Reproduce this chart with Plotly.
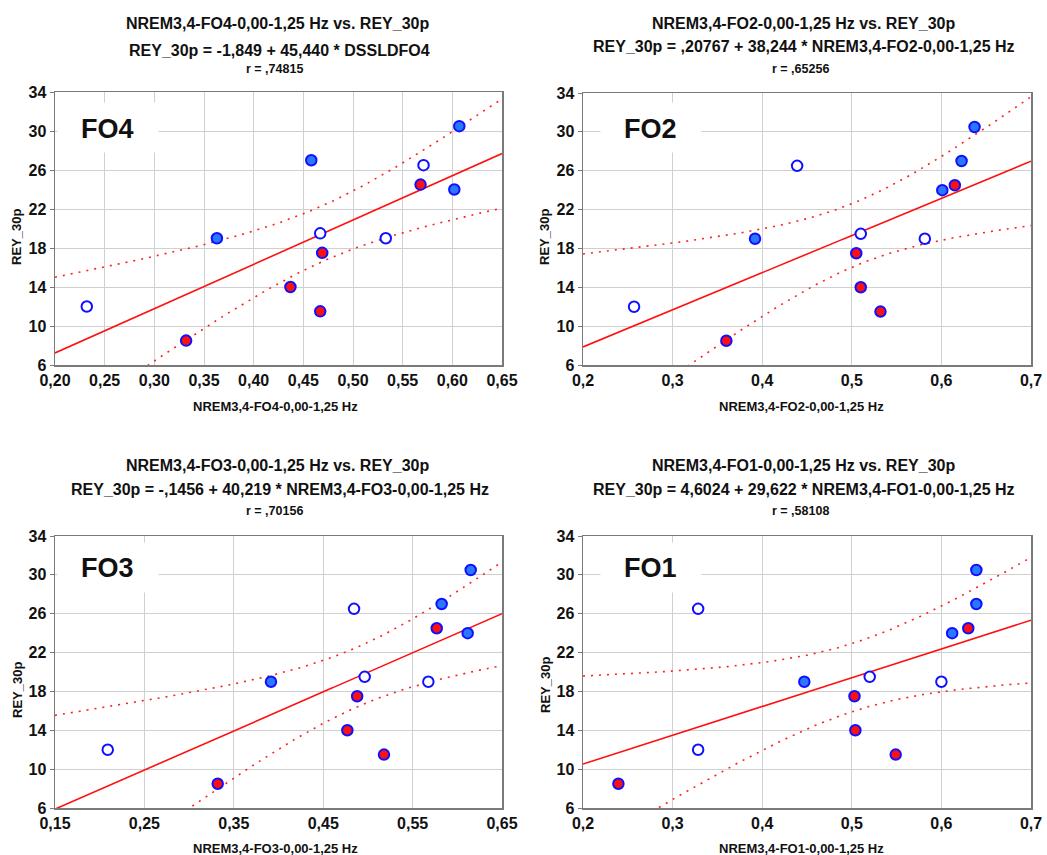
import numpy as np
import plotly.graph_objects as go

# ---------------- data ----------------
rey_30p = [30.5, 27, 26.5, 24.5, 24, 19.5, 19, 19, 17.5, 14, 12, 11.5, 8.5]
group = ["blue", "blue", "white", "red", "blue", "white", "blue", "white",
         "red", "red", "white", "red", "red"]

x_fo4 = [0.607, 0.458, 0.571, 0.568, 0.602, 0.467, 0.363, 0.533, 0.469, 0.437, 0.232, 0.467, 0.332]
x_fo2 = [0.637, 0.6225, 0.439, 0.615, 0.601, 0.510, 0.392, 0.5815, 0.505, 0.510, 0.257, 0.532, 0.360]
x_fo3 = [0.615, 0.5825, 0.4845, 0.577, 0.6116, 0.4964, 0.3916, 0.5676, 0.488, 0.477, 0.209, 0.518, 0.332]
x_fo1 = [0.639, 0.639, 0.3285, 0.630, 0.612, 0.520, 0.447, 0.600, 0.503, 0.504, 0.3285, 0.549, 0.2395]

panel_names = ["FO4", "FO2", "FO3", "FO1"]
panel_x = [x_fo4, x_fo2, x_fo3, x_fo1]
intercepts = [-1.849, 0.20767, -0.1456, 4.6024]
slopes = [45.440, 38.244, 40.219, 29.622]
title1 = ["NREM3,4-FO4-0,00-1,25 Hz vs. REY_30p", "NREM3,4-FO2-0,00-1,25 Hz vs. REY_30p",
          "NREM3,4-FO3-0,00-1,25 Hz vs. REY_30p", "NREM3,4-FO1-0,00-1,25 Hz vs. REY_30p"]
title2 = ["REY_30p = -1,849 + 45,440 * DSSLDFO4",
          "REY_30p = ,20767 + 38,244 * NREM3,4-FO2-0,00-1,25 Hz",
          "REY_30p = -,1456 + 40,219 * NREM3,4-FO3-0,00-1,25 Hz",
          "REY_30p = 4,6024 + 29,622 * NREM3,4-FO1-0,00-1,25 Hz"]
title_r = ["r = ,74815", "r = ,65256", "r = ,70156", "r = ,58108"]
x_titles = ["NREM3,4-FO4-0,00-1,25 Hz", "NREM3,4-FO2-0,00-1,25 Hz",
            "NREM3,4-FO3-0,00-1,25 Hz", "NREM3,4-FO1-0,00-1,25 Hz"]
x_ranges = [[0.20, 0.65], [0.2, 0.7], [0.15, 0.65], [0.2, 0.7]]
x_dticks = [0.05, 0.1, 0.1, 0.1]
x_tick0 = [0.20, 0.2, 0.15, 0.2]
x_formats = [".2f", ".1f", ".2f", ".1f"]
y_range = [6, 34]
y_dtick = 4
t_crit = 2.201  # t(0.975, 11)

# ---------------- layout geometry (page pixels) ----------------
W, H = 1047, 855
panels_px = [  # left, right, top, bottom
    (55, 502, 92, 365),
    (583, 1031, 93, 365),
    (55, 502, 536, 808),
    (583, 1031, 536, 808),
]
title_pos = [  # (x1,y1),(x2,y2),(xr,yr)
    ((277, 24), (279, 51), (274, 69)),
    ((803, 23), (804, 46), (800, 69)),
    ((277, 465), (280, 489), (274, 511)),
    ((803, 465), (804, 489), (800, 511)),
]
xtitle_pos = [(275, 406), (801, 406), (275, 848), (801, 848)]
ytitle_pos = [(17, 237), (545, 237), (17, 690), (545, 685)]
label_pos = [(107, 129), (650, 129), (107, 568), (650, 568)]
label_box = [(108, 128), (651, 128), (108, 567), (651, 567)]

fill_colors = {"blue": "#2a78ff", "red": "#ff1010", "white": "#ffffff"}
ring_color = "#1010ff"
font_family = "Liberation Sans, Arial, sans-serif"

def px_x(p):
    return p / W

def px_y(p):
    return 1 - p / H

fig = go.Figure()
annotations = []

for i in range(4):
    ax = "" if i == 0 else str(i + 1)
    xa, ya = "x" + ax, "y" + ax
    xs = np.array(panel_x[i])
    ys = np.array(rey_30p)
    n = len(xs)
    b0, b1 = intercepts[i], slopes[i]
    resid = ys - (b0 + b1 * xs)
    s = np.sqrt(np.sum(resid ** 2) / (n - 2))
    xbar = xs.mean()
    sxx = np.sum((xs - xbar) ** 2)
    xl = np.linspace(x_ranges[i][0], x_ranges[i][1], 200)
    yl = b0 + b1 * xl
    hw = t_crit * s * np.sqrt(1 / n + (xl - xbar) ** 2 / sxx)

    fig.add_trace(go.Scatter(x=xl, y=yl + hw, mode="lines", xaxis=xa, yaxis=ya,
                             line=dict(color="#ff2020", width=1.6, dash="2px,6px"),
                             hoverinfo="skip", showlegend=False))
    fig.add_trace(go.Scatter(x=xl, y=yl - hw, mode="lines", xaxis=xa, yaxis=ya,
                             line=dict(color="#ff2020", width=1.6, dash="2px,6px"),
                             hoverinfo="skip", showlegend=False))
    fig.add_trace(go.Scatter(x=xl, y=yl, mode="lines", xaxis=xa, yaxis=ya,
                             line=dict(color="#ff1010", width=1.6),
                             hoverinfo="skip", showlegend=False))
    fig.add_trace(go.Scatter(x=xs, y=ys, mode="markers", xaxis=xa, yaxis=ya,
                             marker=dict(size=10.5, color=[fill_colors[g] for g in group],
                                         line=dict(color=ring_color, width=2)),
                             showlegend=False, cliponaxis=False))

    l, r, t, b = panels_px[i]
    axis_common = dict(showline=True, mirror=True, linecolor="#7a7a7a", linewidth=1.5,
                       showgrid=True, gridcolor="#d0d0d0", gridwidth=1, zeroline=False,
                       automargin=False,
                       tickfont=dict(family=font_family, size=16, color="#111111", weight="bold"))
    fig.update_layout(**{
        "xaxis" + ax: dict(domain=[px_x(l), px_x(r)], range=x_ranges[i], anchor=ya,
                           tick0=x_tick0[i], dtick=x_dticks[i], tickformat=x_formats[i],
                           ticks="", **axis_common),
        "yaxis" + ax: dict(domain=[px_y(b), px_y(t)], range=y_range, anchor=xa,
                           dtick=y_dtick, tick0=6, ticks="outside", ticklen=4,
                           tickcolor="#7a7a7a", **axis_common),
    })

    (p1, p2, p3) = title_pos[i]
    for (tx, ty), txt, sz in ((p1, title1[i], 16), (p2, title2[i], 16), (p3, title_r[i], 12.5)):
        annotations.append(dict(x=px_x(tx), y=px_y(ty), xref="paper", yref="paper",
                                text="<b>" + txt + "</b>", showarrow=False,
                                xanchor="center", yanchor="middle",
                                font=dict(family=font_family, size=sz, color="#111111")))
    annotations.append(dict(x=px_x(xtitle_pos[i][0]), y=px_y(xtitle_pos[i][1]),
                            xref="paper", yref="paper", text="<b>" + x_titles[i] + "</b>",
                            showarrow=False, xanchor="center", yanchor="middle",
                            font=dict(family=font_family, size=13, color="#111111")))
    annotations.append(dict(x=px_x(ytitle_pos[i][0]), y=px_y(ytitle_pos[i][1]),
                            xref="paper", yref="paper", text="<b>REY_30p</b>", textangle=-90,
                            showarrow=False, xanchor="center", yanchor="middle",
                            font=dict(family=font_family, size=13, color="#111111")))
    # panel label: white box hiding gridlines
    bx, by = label_box[i]
    annotations.append(dict(x=px_x(bx), y=px_y(by), xref="paper", yref="paper",
                            text=" ", showarrow=False, width=100, height=49,
                            xanchor="center", yanchor="middle", bgcolor="white",
                            borderpad=0, font=dict(size=10)))
    lx, ly = label_pos[i]
    annotations.append(dict(x=px_x(lx), y=px_y(ly), xref="paper", yref="paper",
                            text="<b>" + panel_names[i] + "</b>", showarrow=False,
                            xanchor="center", yanchor="middle",
                            font=dict(family=font_family, size=27, color="#111111")))

fig.update_layout(width=W, height=H, margin=dict(l=0, r=0, t=0, b=0, autoexpand=False),
                  paper_bgcolor="white", plot_bgcolor="white",
                  separators=",.", annotations=annotations,
                  showlegend=False, hovermode=False)

fig.write_html("out.html", config={"displayModeBar": False, "staticPlot": True},
               post_script="document.body.style.margin='0px';"
                           "document.body.style.overflow='hidden';")
